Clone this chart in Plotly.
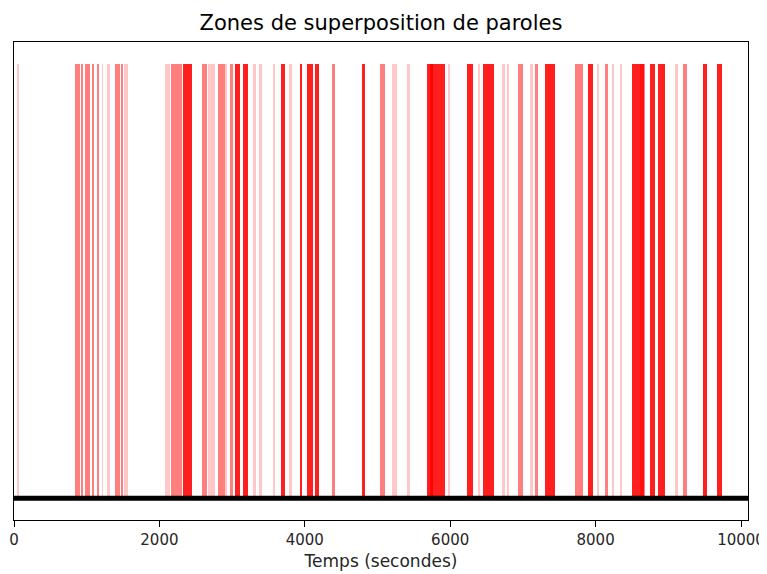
import plotly.graph_objects as go

# Overlap zones (seconds) and their intensity level (1 light, 2 medium, 3 dark)
zone_start = [40, 833, 923, 971, 1074, 1136, 1205, 1274, 1384, 1467, 1508,
              2073, 2156, 2321, 2583, 2665, 2803, 2900, 2969, 3037, 3148, 3285,
              3368, 3560, 3671, 3781, 3933, 4029, 4140, 4373, 4786, 5034, 5200,
              5406, 5682, 5723, 5971, 6233, 6384, 6453, 6715, 6784, 6935, 7100,
              7169, 7307, 7720, 7899, 8023, 8134, 8230, 8340, 8499, 8616, 8753,
              8864, 9091, 9201, 9477, 9670]
zone_end = [65, 909, 944, 1040, 1095, 1164, 1225, 1315, 1453, 1494, 1563,
            2142, 2307, 2445, 2652, 2762, 2900, 2927, 3010, 3106, 3216, 3326,
            3409, 3588, 3726, 3822, 3960, 4112, 4195, 4415, 4828, 5103, 5269,
            5448, 5764, 5930, 5999, 6315, 6405, 6605, 6756, 6805, 7004, 7142,
            7211, 7445, 7830, 7968, 8044, 8175, 8250, 8368, 8664, 8685, 8822,
            8960, 9132, 9256, 9532, 9738]
zone_level = [1, 2, 2, 2, 2, 2, 1, 1, 2, 2, 1,
              1, 2, 3, 2, 1, 2, 1, 2, 3, 3, 1,
              1, 1, 3, 1, 3, 3, 3, 2, 3, 2, 1,
              1, 3, 3, 1, 3, 1, 3, 1, 1, 2, 1,
              2, 3, 2, 3, 1, 2, 1, 1, 3, 2, 3,
              3, 1, 2, 3, 3]
x_ticks = [0, 2000, 4000, 6000, 8000, 10000]

total_duration = 10096
alpha_by_level = {1: 0.22, 2: 0.5, 3: 0.88}

mid = [(s + e) / 2 for s, e in zip(zone_start, zone_end)]
wid = [e - s for s, e in zip(zone_start, zone_end)]
cols = [f"rgba(255,0,0,{alpha_by_level[l]})" for l in zone_level]

fig = go.Figure()
fig.add_trace(go.Bar(
    x=mid, y=[1] * len(mid), base=0, width=wid,
    marker=dict(color=cols, line=dict(width=0)),
    showlegend=False, hoverinfo="skip",
))
fig.add_trace(go.Scatter(
    x=[0, total_duration], y=[0, 0], mode="lines",
    line=dict(color="black", width=5), showlegend=False,
))

W, H = 759, 566
fig.update_layout(
    width=W, height=H,
    margin=dict(l=6, r=19, t=34, b=54),
    paper_bgcolor="white", plot_bgcolor="white",
    font=dict(family="DejaVu Sans", size=15, color="#262626"),
    title=dict(text="Zones de superposition de paroles", x=(381 - 8) / W, xanchor="center",
               y=1 - 15 / H, yanchor="middle",
               font=dict(size=21, color="black")),
    bargap=0, barmode="overlay",
)
fig.update_xaxes(
    range=[0, total_duration], tickvals=x_ticks, ticktext=[str(v) for v in x_ticks],
    ticks="outside", ticklen=6, tickcolor="black", tickwidth=1.2,
    showline=True, linecolor="black", linewidth=1.3, mirror=True,
    showgrid=False, zeroline=False, automargin=False,
    title=dict(text="Temps (secondes)", standoff=6, font=dict(size=17)),
    tickfont=dict(size=15),
)
fig.update_yaxes(
    range=[-0.05, 1.05], showticklabels=False, ticks="",
    showline=True, linecolor="black", linewidth=1.3, mirror=True,
    showgrid=False, zeroline=False, automargin=False,
)

fig.write_html("out.html")
